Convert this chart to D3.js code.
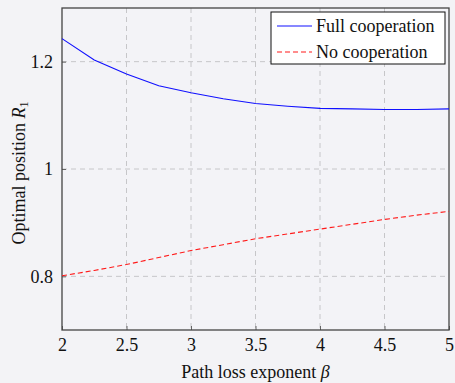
<!DOCTYPE html>
<html>
<head>
<meta charset="utf-8">
<script src="https://cdn.jsdelivr.net/npm/d3@7"></script>
<style>
  html, body { margin: 0; padding: 0; background: #f3f3f6; }
  svg { display: block; }
  text { font-family: "Liberation Serif", "DejaVu Serif", serif; }
</style>
</head>
<body>
<div id="chart"></div>
<script>
(function () {
  "use strict";

  // path loss exponent beta
  const beta = [2, 2.25, 2.5, 2.75, 3, 3.25, 3.5, 3.75, 4, 4.25, 4.5, 4.75, 5];
  const fullCoop = [1.243, 1.203, 1.177, 1.155, 1.142, 1.131, 1.122, 1.117, 1.113, 1.112, 1.111, 1.111, 1.112];
  const noCoop = [0.801, 0.811, 0.822, 0.835, 0.848, 0.859, 0.870, 0.879, 0.888, 0.897, 0.906, 0.914, 0.921];

  const xTicks = [2, 2.5, 3, 3.5, 4, 4.5, 5];
  const yTicks = [0.8, 1, 1.2];

  const W = 455, H = 383;
  const m = { top: 8, right: 6, bottom: 53, left: 62 };
  const FS = "18px";

  const svg = d3.select("#chart").append("svg")
    .attr("width", W).attr("height", H);

  const x = d3.scaleLinear().domain([2, 5]).range([m.left, W - m.right]);
  const y = d3.scaleLinear().domain([0.7, 1.3]).range([H - m.bottom, m.top]);

  // plot background
  svg.append("rect")
    .attr("x", x(2)).attr("y", y(1.3))
    .attr("width", x(5) - x(2)).attr("height", y(0.7) - y(1.3))
    .attr("fill", "#f3f3f7");

  // grid
  svg.append("g").selectAll("line.vg")
    .data(xTicks.slice(1, -1))
    .enter().append("line")
    .attr("x1", (d) => x(d)).attr("x2", (d) => x(d))
    .attr("y1", y(1.3)).attr("y2", y(0.7))
    .attr("stroke", "#c6c6c9").attr("stroke-width", 1)
    .attr("stroke-dasharray", "5,4");

  svg.append("g").selectAll("line.hg")
    .data(yTicks)
    .enter().append("line")
    .attr("x1", x(2)).attr("x2", x(5))
    .attr("y1", (d) => y(d)).attr("y2", (d) => y(d))
    .attr("stroke", "#c6c6c9").attr("stroke-width", 1)
    .attr("stroke-dasharray", "5,4");

  // axes (ticks inside, like pgfplots)
  const xAxis = svg.append("g")
    .attr("transform", `translate(0,${y(0.7)})`)
    .call(d3.axisBottom(x).tickValues(xTicks).tickSize(-4).tickPadding(8)
      .tickFormat(d3.format("")));
  const yAxis = svg.append("g")
    .attr("transform", `translate(${x(2)},0)`)
    .call(d3.axisLeft(y).tickValues(yTicks).tickSize(-4).tickPadding(9)
      .tickFormat(d3.format("")));

  [xAxis, yAxis].forEach((g) => {
    g.attr("font-family", null);
    g.select(".domain").remove();
    g.selectAll(".tick line").attr("stroke", "#666");
    g.selectAll(".tick text")
      .attr("fill", "#111")
      .attr("font-size", FS);
  });

  // frame
  svg.append("rect")
    .attr("x", x(2)).attr("y", y(1.3))
    .attr("width", x(5) - x(2)).attr("height", y(0.7) - y(1.3))
    .attr("fill", "none").attr("stroke", "#444").attr("stroke-width", 1.3);

  // lines
  const line = (vals) => d3.line()
    .x((d, i) => x(beta[i]))
    .y((d) => y(d))(vals);

  svg.append("path")
    .attr("d", line(fullCoop))
    .attr("fill", "none").attr("stroke", "#1010ff").attr("stroke-width", 1.1);

  svg.append("path")
    .attr("d", line(noCoop))
    .attr("fill", "none").attr("stroke", "#ff1a1a").attr("stroke-width", 1.1)
    .attr("stroke-dasharray", "5,3");

  // axis labels
  const xl = svg.append("text")
    .attr("x", (x(2) + x(5)) / 2).attr("y", 378)
    .attr("text-anchor", "middle")
    .attr("font-size", FS).attr("fill", "#111");
  xl.append("tspan").text("Path loss exponent ");
  xl.append("tspan").attr("font-style", "italic").text("β");

  const yl = svg.append("text")
    .attr("transform", `translate(25,${(y(0.7) + y(1.3)) / 2 + 4}) rotate(-90)`)
    .attr("text-anchor", "middle")
    .attr("font-size", FS).attr("fill", "#111");
  yl.append("tspan").text("Optimal position ");
  yl.append("tspan").attr("font-style", "italic").text("R");
  yl.append("tspan").attr("font-size", "12px").attr("dy", 3).text("1");

  // legend
  const legend = [
    { name: "Full cooperation", color: "#1010ff", dash: null },
    { name: "No cooperation", color: "#ff1a1a", dash: "5,3" },
  ];
  const lg = svg.append("g").attr("transform", "translate(271,12)");
  lg.append("rect")
    .attr("width", 174).attr("height", 52)
    .attr("fill", "#ffffff").attr("stroke", "#111").attr("stroke-width", 1);
  legend.forEach((s, i) => {
    const cy = 14 + i * 26;
    lg.append("line")
      .attr("x1", 6).attr("x2", 41).attr("y1", cy).attr("y2", cy)
      .attr("stroke", s.color).attr("stroke-width", 1.1)
      .attr("stroke-dasharray", s.dash);
    lg.append("text")
      .attr("x", 45).attr("y", cy + 6)
      .attr("font-size", FS).attr("fill", "#111")
      .text(s.name);
  });
})();
</script>
</body>
</html>
